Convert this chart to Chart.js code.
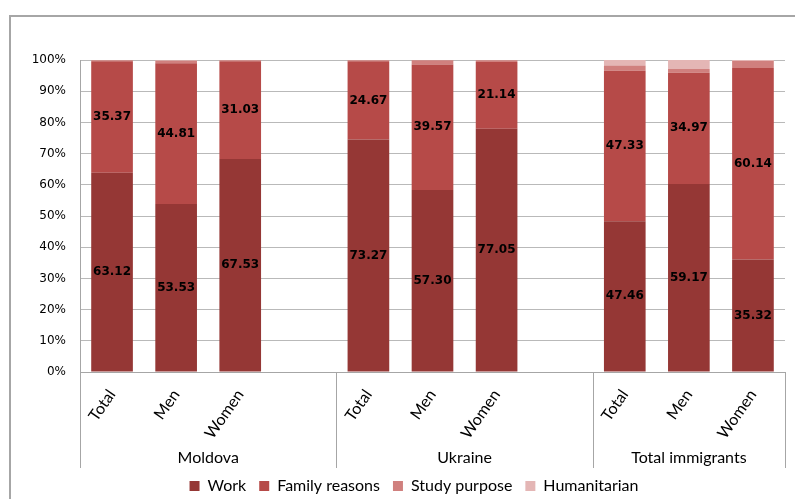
<!DOCTYPE html>
<html>
<head>
<meta charset="utf-8">
<script src="https://cdn.jsdelivr.net/npm/chart.js@4.4.0/dist/chart.umd.min.js"></script>
<style>
html, body { margin: 0; padding: 0; background: #fff; overflow: hidden; }
#frame { position: absolute; left: 9px; top: 15px; width: 806px; height: 482px;
         border-top: 2px solid #a6a6a6; border-left: 2px solid #a6a6a6; }
</style>
</head>
<body>
<div id="frame"><canvas id="chart" width="806" height="482"></canvas></div>
<script>
// categories (blank slots separate the country groups)
const categories = ['Total', 'Men', 'Women', '', 'Total', 'Men', 'Women', '', 'Total', 'Men', 'Women'];
const groupOf = ['Moldova', 'Moldova', 'Moldova', 'Moldova',
                 'Ukraine', 'Ukraine', 'Ukraine', 'Ukraine',
                 'Total immigrants', 'Total immigrants', 'Total immigrants'];

const work         = [63.12, 53.53, 67.53, null, 73.27, 57.30, 77.05, null, 47.46, 59.17, 35.32];
const family       = [35.37, 44.81, 31.03, null, 24.67, 39.57, 21.14, null, 47.33, 34.97, 60.14];
const study        = [0.30, 0.80, 0.30, null, 0.30, 1.30, 0.50, null, 1.70, 1.20, 2.20];
const humanitarian = [0.10, 0.20, 0.10, null, 0.10, 0.10, 0.10, null, 1.70, 2.80, 0.30];

const seriesNames = ['Work', 'Family reasons', 'Study purpose', 'Humanitarian'];
const colors = ['#953735', '#b64a48', '#d0807e', '#e4b6b5'];

const labelFont = 'Lato';

// stacked to 100% per category
const series = [work, family, study, humanitarian];
const totals = categories.map((_, i) => series.reduce((s, a) => s + (a[i] || 0), 0));
const pct = arr => arr.map((v, i) => v == null ? null : v / totals[i] * 100);

const valueLabels = {
    id: 'valueLabels',
    afterDatasetsDraw(chart) {
        const ctx = chart.ctx;
        ctx.save();
        ctx.font = 'bold 12px "DejaVu Sans"';
        ctx.fillStyle = '#000';
        ctx.textAlign = 'center';
        ctx.textBaseline = 'middle';
        [0, 1].forEach(d => {
            const meta = chart.getDatasetMeta(d);
            series[d].forEach((v, i) => {
                if (v == null) return;
                const el = meta.data[i];
                ctx.fillText(v.toFixed(2), el.x, (el.y + el.base) / 2);
            });
        });
        ctx.restore();
    }
};

// second level of the category axis: group names and separators
const groupAxis = {
    id: 'groupAxis',
    afterDraw(chart) {
        const { ctx, chartArea, scales: { x } } = chart;
        const step = (x.right - x.left) / categories.length;
        const bounds = [0];
        for (let i = 1; i <= groupOf.length; i++) {
            if (i === groupOf.length || groupOf[i] !== groupOf[i - 1]) bounds.push(i);
        }
        ctx.save();
        ctx.strokeStyle = '#a6a6a6';
        ctx.lineWidth = 1;
        bounds.forEach(b => {
            const px = Math.round(x.left + b * step) + 0.5;
            ctx.beginPath();
            ctx.moveTo(px, chartArea.bottom);
            ctx.lineTo(px, chartArea.bottom + 96);
            ctx.stroke();
        });
        ctx.font = '16px ' + labelFont;
        ctx.fillStyle = '#000';
        ctx.textAlign = 'center';
        ctx.textBaseline = 'middle';
        for (let k = 0; k < bounds.length - 1; k++) {
            const cx = x.left + (bounds[k] + bounds[k + 1]) / 2 * step;
            ctx.fillText(groupOf[bounds[k]], cx, chartArea.bottom + 86);
        }
        ctx.restore();
    }
};

document.addEventListener('DOMContentLoaded', () => {
    const ctx = document.getElementById('chart').getContext('2d');
    new Chart(ctx, {
        type: 'bar',
        data: {
            labels: categories,
            datasets: series.map((s, i) => ({
                label: seriesNames[i],
                data: pct(s),
                backgroundColor: colors[i],
                borderWidth: 0,
                categoryPercentage: 1,
                barPercentage: 0.65
            }))
        },
        options: {
            responsive: false,
            animation: false,
            layout: { padding: { left: 0, top: 43, right: 0, bottom: 0 } },
            plugins: {
                tooltip: { enabled: false },
                legend: {
                    position: 'bottom',
                    maxHeight: 34,
                    labels: {
                        boxWidth: 10, boxHeight: 10, padding: 13,
                        color: '#000',
                        font: { family: labelFont, size: 16 }
                    }
                }
            },
            scales: {
                x: {
                    stacked: true,
                    grid: { display: false },
                    border: { display: true, color: '#a6a6a6' },
                    ticks: {
                        autoSkip: false, minRotation: 55, maxRotation: 55, padding: 6,
                        color: '#000', font: { family: labelFont, size: 16 }
                    },
                    afterFit: s => { s.height = 93; }
                },
                y: {
                    stacked: true,
                    min: 0, max: 100,
                    grid: { color: '#b9b9b9', drawTicks: false },
                    border: { display: true, color: '#a6a6a6' },
                    ticks: {
                        stepSize: 10, padding: 14, color: '#000',
                        font: { family: 'DejaVu Sans', size: 12 },
                        callback: v => v + '%'
                    },
                    afterFit: s => { s.width = 69; }
                },
                // empty right margin so the legend stays centred on the whole frame
                spacer: {
                    position: 'right',
                    grid: { display: false },
                    border: { display: false },
                    ticks: { display: false },
                    afterFit: s => { s.width = 32; }
                }
            }
        },
        plugins: [valueLabels, groupAxis]
    });
});
</script>
</body>
</html>
